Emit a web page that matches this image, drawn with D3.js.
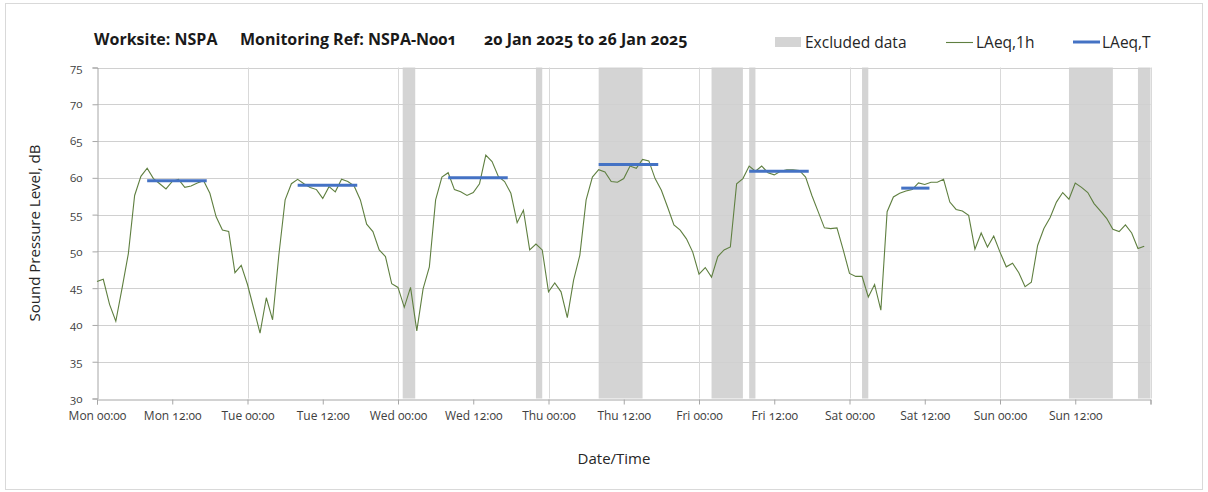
<!DOCTYPE html>
<html>
<head>
<meta charset="utf-8">
<script src="https://cdn.jsdelivr.net/npm/d3@7"></script>
<style>
  html, body { margin: 0; padding: 0; background: #fff; }
  svg { display: block; font-family: "Open Sans", "Noto Sans", sans-serif; }
</style>
</head>
<body>
<svg id="chart" width="1208" height="492"></svg>
<script>
// ---------------- DATA ----------------
// Hourly LAeq,1h values, hour 0 = Mon 00:00 (20 Jan 2025)
const laeq1hMon = [45.9, 46.2, 42.8, 40.5, 45.0, 49.7, 57.6, 60.2, 61.3, 59.9, 59.2, 58.5, 59.5, 59.8, 58.7, 58.9, 59.3, 59.6, 57.9, 54.7, 52.9, 52.7, 47.1, 48.1];
const laeq1hTue = [45.5, 42.2, 38.9, 43.7, 40.7, 49.5, 57.0, 59.2, 59.8, 59.2, 58.7, 58.4, 57.2, 58.8, 58.1, 59.8, 59.5, 58.9, 57.0, 53.7, 52.7, 50.2, 49.3, 45.6];
const laeq1hWed = [45.1, 42.4, 45.1, 39.2, 44.9, 47.9, 57.0, 60.1, 60.7, 58.4, 58.1, 57.6, 58.0, 59.2, 63.1, 62.2, 60.2, 59.5, 57.9, 53.9, 55.6, 50.2, 51.0, 50.2];
const laeq1hThu = [44.5, 45.7, 44.5, 41.0, 46.1, 49.5, 57.0, 60.1, 61.1, 60.8, 59.5, 59.4, 59.9, 61.6, 61.3, 62.5, 62.3, 59.9, 58.3, 56.0, 53.6, 52.9, 51.7, 49.9];
const laeq1hFri = [46.9, 47.8, 46.5, 49.3, 50.2, 50.6, 59.2, 59.9, 61.6, 60.9, 61.6, 60.7, 60.4, 60.9, 61.1, 61.1, 61.0, 60.1, 57.6, 55.4, 53.2, 53.1, 53.2, 50.2];
const laeq1hSat = [47.0, 46.6, 46.6, 43.8, 45.5, 42.0, 55.4, 57.4, 57.9, 58.2, 58.4, 59.3, 59.1, 59.4, 59.4, 59.8, 56.7, 55.7, 55.5, 54.9, 50.3, 52.5, 50.6, 52.1];
const laeq1hSun = [49.9, 47.9, 48.4, 47.1, 45.2, 45.8, 50.8, 53.1, 54.6, 56.7, 58.0, 57.1, 59.3, 58.7, 58.0, 56.5, 55.5, 54.5, 53.0, 52.7, 53.6, 52.5, 50.4, 50.7];

// Excluded periods [start hour, end hour]
const excludedStart = [48.75, 70, 80, 98, 104, 122, 155, 166];
const excludedEnd   = [50.75, 71, 87, 103, 105, 123, 162, 168];

// LAeq,T periods: start hour, end hour, level dB
const laeqTStart = [8, 32, 56, 80, 104, 128.25];
const laeqTEnd   = [17.5, 41.5, 65.5, 89.5, 113.5, 132.75];
const laeqTValue = [59.6, 59.0, 60.0, 61.8, 60.9, 58.6];

// Axis ticks
const xTickHours = [0, 12, 24, 36, 48, 60, 72, 84, 96, 108, 120, 132, 144, 156];
const xTickLabels = ["Mon 00:00","Mon 12:00","Tue 00:00","Tue 12:00","Wed 00:00","Wed 12:00","Thu 00:00","Thu 12:00","Fri 00:00","Fri 12:00","Sat 00:00","Sat 12:00","Sun 00:00","Sun 12:00"];
const yTicks = [30, 35, 40, 45, 50, 55, 60, 65, 70, 75];

const titleParts = ["Worksite: NSPA", "Monitoring Ref: NSPA-N001", "20 Jan 2025 to 26 Jan 2025"];
const legendLabels = ["Excluded data", "LAeq,1h", "LAeq,T"];

// ---------------- DRAW ----------------
const laeq1h = [].concat(laeq1hMon, laeq1hTue, laeq1hWed, laeq1hThu, laeq1hFri, laeq1hSat, laeq1hSun);
const series = laeq1h.map((v, i) => ({ h: i, v }));

const svg = d3.select("#chart");
const plot = { left: 97, right: 1150.5, top: 67.5, bottom: 398.5 };

// outer border
svg.append("rect").attr("x", 5.5).attr("y", 3.5).attr("width", 1197).attr("height", 486)
  .attr("fill", "#fff").attr("stroke", "#d9d9d9").attr("stroke-width", 1);

const x = d3.scaleLinear().domain([0, 168]).range([plot.left, plot.right]);
const y = d3.scaleLinear().domain([30, 75]).range([plot.bottom, plot.top]);

// excluded bands
svg.append("g").selectAll("rect").data(excludedStart.map((s, i) => [s, excludedEnd[i]]))
  .join("rect")
  .attr("x", d => x(d[0])).attr("width", d => x(d[1]) - x(d[0]))
  .attr("y", y(75)).attr("height", y(30) - y(75))
  .attr("fill", "#d4d4d4");

// horizontal gridlines
svg.append("g").selectAll("line").data(yTicks.filter(t => t > 30))
  .join("line")
  .attr("x1", plot.left).attr("x2", plot.right)
  .attr("y1", d => Math.round(y(d)) + 0.5).attr("y2", d => Math.round(y(d)) + 0.5)
  .attr("stroke", "#d0d0d0").attr("stroke-width", 1);

// vertical gridlines at day boundaries
svg.append("g").selectAll("line").data(d3.range(24, 169, 24))
  .join("line")
  .attr("x1", d => Math.round(x(d)) + 0.5).attr("x2", d => Math.round(x(d)) + 0.5)
  .attr("y1", plot.top).attr("y2", plot.bottom)
  .attr("stroke", "#d9d9d9").attr("stroke-width", 1);

// Y axis
const yAxis = d3.axisLeft(y).tickValues(yTicks).tickSize(5).tickPadding(10);
const gy = svg.append("g").attr("transform", `translate(${Math.round(plot.left) + 0.5},0)`).call(yAxis);
gy.select(".domain").attr("stroke", "#a6a6a6");
gy.selectAll(".tick line").attr("stroke", "#a6a6a6");
gy.selectAll(".tick text").attr("font-size", 11.5).attr("fill", "#404040")
  .attr("font-family", "'Open Sans', sans-serif")
  .style("font-variant-numeric", "oldstyle-nums");

// X axis
const xAxis = d3.axisBottom(x).tickValues(xTickHours.concat([168])).tickSize(5).tickPadding(7)
  .tickFormat((d, i) => xTickLabels[i] || "");
const gx = svg.append("g").attr("transform", `translate(0,${Math.round(plot.bottom) + 0.5})`).call(xAxis);
gx.select(".domain").attr("stroke", "#a6a6a6");
gx.selectAll(".tick line").attr("stroke", "#a6a6a6");
gx.selectAll(".tick text").attr("font-size", 12).attr("fill", "#404040")
  .attr("font-family", "'Open Sans', sans-serif")
  .style("font-variant-numeric", "oldstyle-nums");

// LAeq,1h line
const line = d3.line().x(d => x(d.h)).y(d => y(d.v));
svg.append("path").datum(series)
  .attr("d", line).attr("fill", "none")
  .attr("stroke", "#5f7f40").attr("stroke-width", 1.1);

// LAeq,T segments
svg.append("g").selectAll("line").data(laeqTStart.map((s, i) => ({ s, e: laeqTEnd[i], v: laeqTValue[i] })))
  .join("line")
  .attr("x1", d => x(d.s)).attr("x2", d => x(d.e))
  .attr("y1", d => y(d.v)).attr("y2", d => y(d.v))
  .attr("stroke", "#4472c4").attr("stroke-width", 3);

// Title
const titleX = [94, 240, 484];
svg.append("g").selectAll("text").data(titleParts).join("text")
  .attr("x", (d, i) => titleX[i]).attr("y", 45)
  .attr("font-size", 16).attr("font-weight", "bold").attr("fill", "#1a1a1a")
  .attr("font-family", "'Open Sans', sans-serif")
  .style("font-variant-numeric", "oldstyle-nums")
  .text(d => d);

// Legend
const lg = svg.append("g");
lg.append("rect").attr("x", 775).attr("y", 37).attr("width", 26).attr("height", 10).attr("fill", "#d4d4d4");
lg.append("line").attr("x1", 946).attr("x2", 973).attr("y1", 42.5).attr("y2", 42.5)
  .attr("stroke", "#5f7f40").attr("stroke-width", 1.1);
lg.append("line").attr("x1", 1073).attr("x2", 1100).attr("y1", 42).attr("y2", 42)
  .attr("stroke", "#4472c4").attr("stroke-width", 3);
const legendX = [805, 976, 1102];
lg.selectAll("text").data(legendLabels).join("text")
  .attr("x", (d, i) => legendX[i]).attr("y", 48)
  .attr("font-size", 15.5).attr("fill", "#262626")
  .text(d => d);

// Axis titles
svg.append("text").attr("transform", "translate(40,233) rotate(-90)")
  .attr("text-anchor", "middle").attr("font-size", 15).attr("fill", "#262626")
  .text("Sound Pressure Level, dB");
svg.append("text").attr("x", 614).attr("y", 464)
  .attr("text-anchor", "middle").attr("font-size", 15).attr("fill", "#262626")
  .text("Date/Time");
</script>
</body>
</html>
